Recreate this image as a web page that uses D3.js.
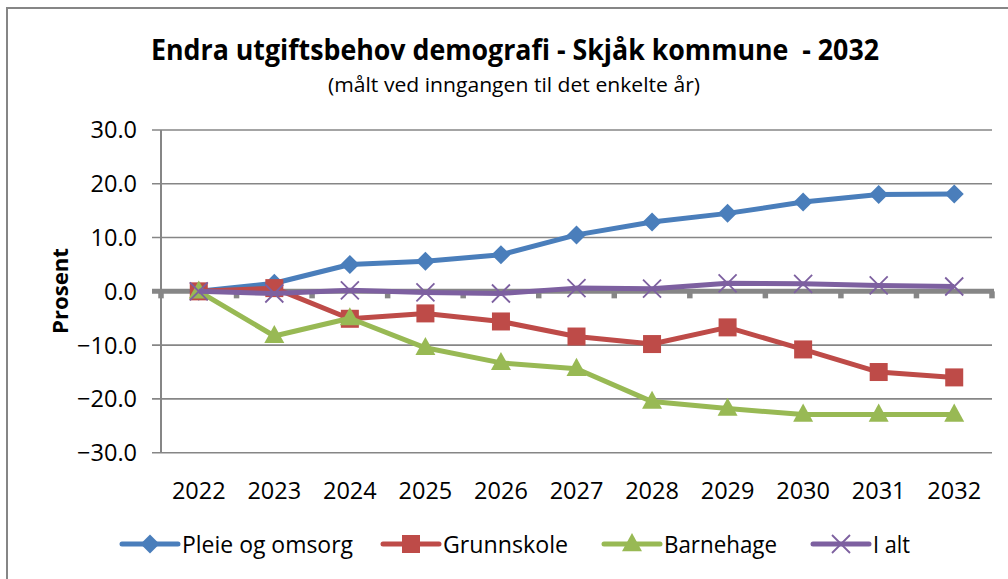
<!DOCTYPE html>
<html><head><meta charset="utf-8">
<script src="https://cdn.jsdelivr.net/npm/d3@7"></script>
<style>
html,body{margin:0;padding:0;background:#fff;}
text{font-family:"Open Sans",sans-serif;fill:#000;white-space:pre;}
</style></head>
<body>
<svg id="chart" width="1008" height="579"></svg>
<script>
const years = ["2022","2023","2024","2025","2026","2027","2028","2029","2030","2031","2032"];
const pleie = [0.0, 1.5, 5.0, 5.6, 6.8, 10.5, 12.9, 14.5, 16.6, 18.0, 18.1];
const grunnskole = [0.0, 0.6, -5.1, -4.1, -5.6, -8.4, -9.8, -6.7, -10.8, -15.0, -16.0];
const barnehage = [0.0, -8.3, -5.0, -10.5, -13.3, -14.4, -20.5, -21.8, -22.9, -22.9, -22.9];
const ialt = [0.0, -0.4, 0.2, -0.2, -0.4, 0.6, 0.5, 1.5, 1.4, 1.1, 0.9];
const yTicks = [30, 20, 10, 0, -10, -20, -30];
const seriesNames = ["Pleie og omsorg", "Grunnskole", "Barnehage", "I alt"];
const seriesColors = ["#4A7EBB", "#BE4B48", "#98B954", "#7D60A0"];
const seriesMarkers = ["diamond", "square", "triangle", "cross"];
const titleText = "Endra utgiftsbehov demografi - Skjåk kommune  - 2032";
const subtitleText = "(målt ved inngangen til det enkelte år)";
const yAxisTitle = "Prosent";

const series = [pleie, grunnskole, barnehage, ialt].map((vals, i) => ({
  name: seriesNames[i], color: seriesColors[i], marker: seriesMarkers[i],
  values: vals.map((v, j) => ({year: years[j], v}))
}));

const svg = d3.select("#chart");
const grid = "#868686";

// outer frame
svg.append("rect").attr("x", 7).attr("y", 8).attr("width", 1100).attr("height", 700)
  .attr("fill", "none").attr("stroke", grid).attr("stroke-width", 2);

const x = d3.scaleBand().domain(years).range([161, 992]);
const y = d3.scaleLinear().domain([-30, 30]).range([452.7, 130]);

// gridlines
svg.append("g").selectAll("line").data(yTicks.filter(d => d !== 0)).join("line")
  .attr("x1", 152).attr("x2", 992).attr("y1", d => y(d)).attr("y2", d => y(d))
  .attr("stroke", grid).attr("stroke-width", 1.6);

// y axis line
svg.append("line").attr("x1", 161).attr("x2", 161).attr("y1", y(30)).attr("y2", y(-30))
  .attr("stroke", grid).attr("stroke-width", 2);

// y tick labels
svg.append("g").selectAll("text").data(yTicks).join("text")
  .attr("x", 137).attr("y", d => y(d)).attr("dy", "0.36em")
  .attr("text-anchor", "end").attr("font-size", 23.5)
  .text(d => d3.format(".1f")(d));

// zero axis (thick) with tick marks
const bounds = years.map(d => x(d)).concat([x.range()[1]]);
svg.append("g").selectAll("line").data(bounds).join("line")
  .attr("x1", d => d).attr("x2", d => d).attr("y1", y(0)).attr("y2", y(0) + 7)
  .attr("stroke", grid).attr("stroke-width", 5.5);
svg.append("line").attr("x1", 152).attr("x2", 994).attr("y1", y(0)).attr("y2", y(0))
  .attr("stroke", grid).attr("stroke-width", 5);

// x labels
svg.append("g").selectAll("text").data(years).join("text")
  .attr("x", d => x(d) + x.bandwidth() / 2).attr("y", 499)
  .attr("text-anchor", "middle").attr("font-size", 23.5).text(d => d);

// marker drawing
function drawMarker(g, type, color, cx, cy, s) {
  if (type === "diamond") {
    g.append("path").attr("d", `M${cx},${cy - s}L${cx + s},${cy}L${cx},${cy + s}L${cx - s},${cy}Z`).attr("fill", color);
  } else if (type === "square") {
    g.append("rect").attr("x", cx - s).attr("y", cy - s).attr("width", 2 * s).attr("height", 2 * s).attr("fill", color);
  } else if (type === "triangle") {
    g.append("path").attr("d", `M${cx},${cy - s * 1.15}L${cx + s * 1.05},${cy + s * 0.75}L${cx - s * 1.05},${cy + s * 0.75}Z`).attr("fill", color);
  } else {
    g.append("path").attr("d", `M${cx - s},${cy - s}L${cx + s},${cy + s}M${cx + s},${cy - s}L${cx - s},${cy + s}`)
      .attr("stroke", color).attr("stroke-width", 1.8).attr("fill", "none");
  }
}
const markerSize = {diamond: 9.5, square: 9, triangle: 9.5, cross: 9};

const line = d3.line().x(d => x(d.year) + x.bandwidth() / 2).y(d => y(d.v));
series.forEach(s => {
  const g = svg.append("g");
  g.append("path").datum(s.values).attr("d", line).attr("fill", "none")
    .attr("stroke", s.color).attr("stroke-width", 5).attr("stroke-linejoin", "round");
  s.values.forEach(d => drawMarker(g, s.marker, s.color, x(d.year) + x.bandwidth() / 2, y(d.v), markerSize[s.marker]));
});

// titles
svg.append("text").attr("x", 515).attr("y", 60).attr("text-anchor", "middle")
  .attr("font-size", 29).attr("font-weight", "bold")
  .attr("textLength", 728).attr("lengthAdjust", "spacingAndGlyphs").text(titleText);
svg.append("text").attr("x", 514).attr("y", 92).attr("text-anchor", "middle")
  .attr("font-size", 20.5).attr("textLength", 372).attr("lengthAdjust", "spacingAndGlyphs").text(subtitleText);

svg.append("text").attr("transform", "translate(68,291) rotate(-90)")
  .attr("text-anchor", "middle").attr("font-size", 22).attr("font-weight", "bold")
  .attr("textLength", 86).attr("lengthAdjust", "spacingAndGlyphs").text(yAxisTitle);

// legend
const legendX = [122, 383, 604, 813];
const legendW = [171, 125, 113, 37];
series.forEach((s, i) => {
  const g = svg.append("g");
  const lx = legendX[i];
  g.append("line").attr("x1", lx).attr("x2", lx + 56).attr("y1", 544).attr("y2", 544)
    .attr("stroke", s.color).attr("stroke-width", 5).attr("stroke-linecap", "round");
  drawMarker(g, s.marker, s.color, lx + 28, 544, markerSize[s.marker]);
  g.append("text").attr("x", lx + 60).attr("y", 553).attr("font-size", 24.5)
    .attr("textLength", legendW[i]).attr("lengthAdjust", "spacingAndGlyphs").text(s.name);
});
</script>
</body></html>
